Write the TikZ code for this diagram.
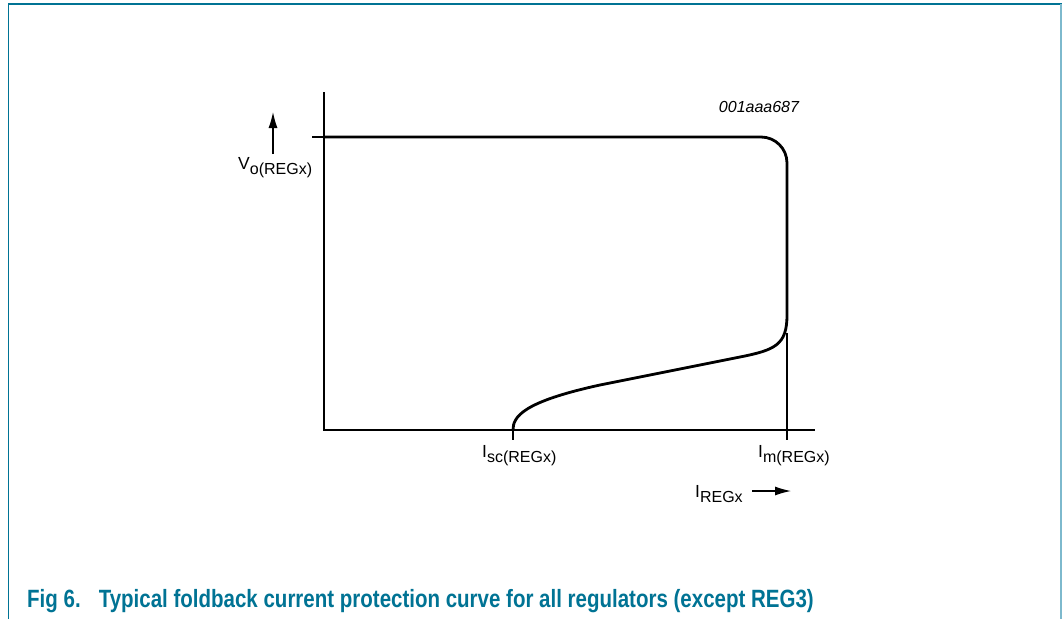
\documentclass[tikz,border=0pt]{standalone}
\usepackage{fontspec}
\setmainfont{Liberation Sans}
\usetikzlibrary{arrows.meta}
\definecolor{capteal}{RGB}{0,115,148}
\definecolor{framelight}{RGB}{125,185,205}
\newcommand{\sublbl}[2]{#1\raisebox{-5pt}{\fontsize{16}{18}\selectfont #2}}

\begin{document}
\begin{tikzpicture}[x=1pt, y=-1pt,
    axis/.style={line width=1.2pt},
    curve/.style={line width=2.8pt, line join=round},
    lbl/.style={inner sep=0pt, anchor=base west, font=\fontsize{17.5}{20}\selectfont},
    arr/.style={line width=1.2pt, -{Latex[length=16pt, width=9pt]}}]
    \useasboundingbox (0,0) rectangle (1063,619);

    % Frame
    \draw[capteal, line width=1.3pt] (8.5,619) -- (8.5,4) -- (1062,4);
    \draw[framelight, line width=2pt] (1061,4) -- (1061,619);

    % Axes
    \coordinate (O) at (324,430);
    \coordinate (ytop) at (324,92);
    \coordinate (xend) at (815,430);
    \draw[axis] (ytop) -- (O) -- (xend);

    % Ticks
    \coordinate (vtick) at (312,137);
    \coordinate (vmax) at (324,137);
    \coordinate (isc) at (513,430);
    \coordinate (isclow) at (513,440);
    \coordinate (imtop) at (787,333);
    \coordinate (imlow) at (787,440);
    \draw[axis] (vtick) -- (vmax);
    \draw[axis] (isc) -- (isclow);
    \draw[axis] (imtop) -- (imlow);

    % Curve
    \draw[curve] (vmax) -- (761,137) arc[start angle=-90, end angle=0, radius=26]
        -- (787,315) .. controls (787,345) and (775,350) .. (740,357)
        -- (600,385) .. controls (522,402) and (513,417) .. (isc);

    % Labels
    \node[inner sep=0pt, font=\itshape\fontsize{16}{18}\selectfont] (tag) at (759,107) {001aaa687};
    \node[lbl] (vlbl) at (238,169) {\sublbl{V}{o(REGx)}};
    \node[lbl] (isclbl) at (482,457) {\sublbl{I}{sc(REGx)}};
    \node[lbl] (imlbl) at (758,457) {\sublbl{I}{m(REGx)}};
    \node[lbl] (ilbl) at (695,497) {\sublbl{I}{REGx}};

    % Arrows
    \coordinate (vtail) at (273,154);
    \coordinate (vtip) at (273,112);
    \coordinate (itail) at (752,491);
    \coordinate (itip) at (791,491);
    \draw[arr] (vtail) -- (vtip);
    \draw[arr] (itail) -- (itip);

    % Caption
    \node[inner sep=0pt, anchor=base west, text=capteal, font=\bfseries\fontsize{25}{28}\selectfont] (caption) at (27,607)
        {\scalebox{0.82}[1]{Fig 6.\hspace{22pt}Typical foldback current protection curve for all regulators (except REG3)}};
\end{tikzpicture}
\end{document}
